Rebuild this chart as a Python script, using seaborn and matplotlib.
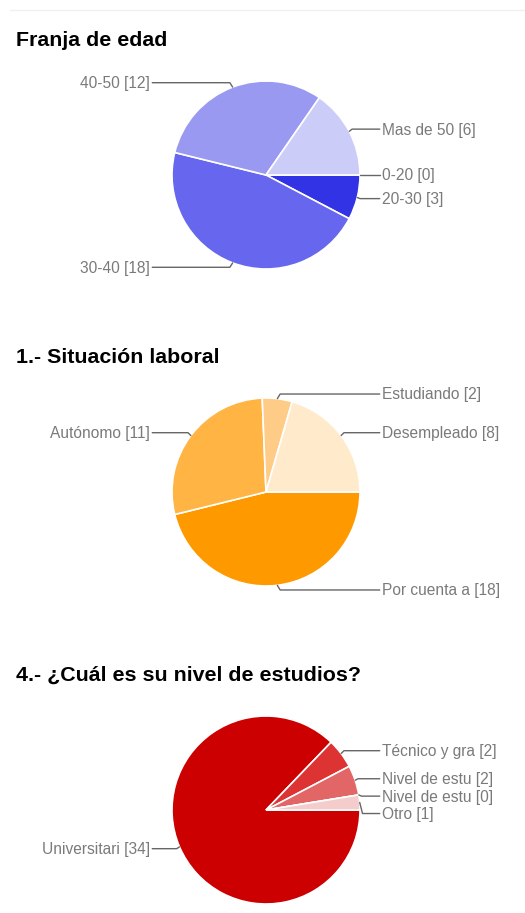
import numpy as np
import matplotlib.pyplot as plt
from matplotlib.lines import Line2D
import seaborn as sns

sns.set_theme(style="white")
plt.rcParams['font.family'] = ['Liberation Sans', 'DejaVu Sans']

# --- data ---
edad_labels = ['0-20', '20-30', '30-40', '40-50', 'Mas de 50']
edad_values = [0, 3, 18, 12, 6]
edad_colors = ['#1a1ae0', '#3333e6', '#6666ee', '#9999f2', '#ccccf8']

laboral_labels = ['Por cuenta a', 'Autónomo', 'Estudiando', 'Desempleado']
laboral_values = [18, 11, 2, 8]
laboral_colors = ['#ff9900', '#ffb444', '#ffcc88', '#ffebcc']

estudios_labels = ['Universitari', 'Técnico y gra', 'Nivel de estu', 'Nivel de estu', 'Otro']
estudios_values = [34, 2, 2, 0, 1]
estudios_colors = ['#cc0000', '#dd3333', '#e36666', '#ea9999', '#f4cccc']

titles = ['Franja de edad', '1.- Situación laboral', '4.- ¿Cuál es su nivel de estudios?']

W, H = 525, 913
R_PX = 94          # pie radius in pixels
BOX = 200          # axes box in pixels
centers = [(266, 175), (266, 492), (266, 810)]
title_y = [40, 357, 675]

fig = plt.figure(figsize=(W / 100, H / 100), dpi=100)
fig.patch.set_facecolor('white')


def draw_pie(ax, labels, values, colors):
    wedges, _ = ax.pie(values, colors=colors, startangle=0, counterclock=False, radius=1,
                       wedgeprops=dict(edgecolor='white', linewidth=1.2))
    lim = (BOX / 2) / R_PX
    ax.set_xlim(-lim, lim); ax.set_ylim(-lim, lim)
    ax.set_aspect('equal'); ax.axis('off')

    # leader-line labels, pushed apart so they don't collide
    items = []
    for w, lab, v in zip(wedges, labels, values):
        mid = np.deg2rad((w.theta1 + w.theta2) / 2)
        xe, ye = np.cos(mid), np.sin(mid)
        side = 1 if xe >= -1e-9 else -1
        items.append(dict(xe=xe, ye=ye, side=side, y=1.05 * ye, text=f'{lab} [{v}]'))
    gap = 0.185
    for side in (1, -1):
        grp = sorted([it for it in items if it['side'] == side], key=lambda d: -d['y'])
        for prev, cur in zip(grp, grp[1:]):
            if prev['y'] - cur['y'] < gap:
                cur['y'] = prev['y'] - gap
    for it in items:
        s = it['side']
        ax.plot([it['xe'], it['xe'] + s * 0.03, s * 1.21], [it['ye'], it['y'], it['y']],
                color='#666666', lw=1, clip_on=False, solid_joinstyle='round')
        ax.text(s * 1.235, it['y'] - 0.01, it['text'], ha='left' if s > 0 else 'right',
                va='center', fontsize=11.2, color='#7a7a7a')


datasets = [(edad_labels, edad_values, edad_colors),
            (laboral_labels, laboral_values, laboral_colors),
            (estudios_labels, estudios_values, estudios_colors)]

for (cx, cy), ty, title, (labs, vals, cols) in zip(centers, title_y, titles, datasets):
    ax = fig.add_axes([(cx - BOX / 2) / W, (H - cy - BOX / 2) / H, BOX / W, BOX / H])
    draw_pie(ax, labs, vals, cols)
    fig.text(16 / W, 1 - ty / H, title, ha='left', va='center', fontsize=15.4,
             fontweight='bold', color='black')

# faint card border at the top
fig.add_artist(Line2D([10 / W, 1], [1 - 10 / H, 1 - 10 / H], color='#f0f0f0', lw=1))

fig.savefig('out.png', dpi=100, facecolor='white')
